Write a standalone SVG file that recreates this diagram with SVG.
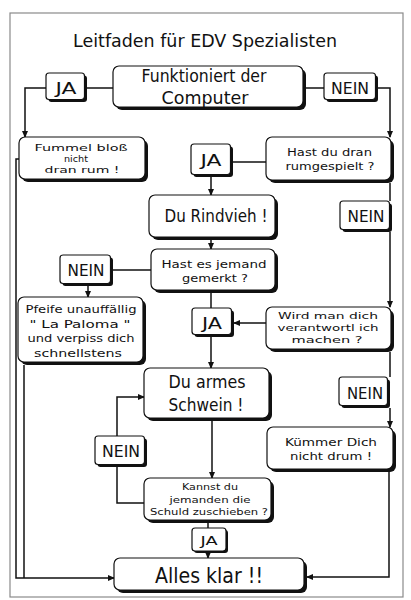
<svg xmlns="http://www.w3.org/2000/svg" width="411" height="600" viewBox="0 0 411 600">
<style>
.bg{fill:#fff}
.frame{fill:none;stroke:#8a8a8a;stroke-width:1.2}
.sh{fill:#111}
.bx{fill:#fff;stroke:#111;stroke-width:1.2}
.ln{fill:none;stroke:#111;stroke-width:1.5}
.ar{fill:none;stroke:#111;stroke-width:1.5;marker-end:url(#ah)}
text{font-family:"DejaVu Sans","Liberation Sans",sans-serif;fill:#111;text-anchor:middle}
.t{font-size:18px}
.big{font-size:17px}
.lab{font-size:16px}
.sm{font-size:9.5px}
.md{font-size:11px}
</style>
<defs>
<marker id="ah" markerWidth="7" markerHeight="6" refX="6" refY="3" orient="auto" markerUnits="userSpaceOnUse">
<path d="M0,0 L7,3 L0,6 Z" fill="#111"/>
</marker>
</defs>
<rect class="bg" x="0" y="0" width="411" height="600"/>
<rect class="frame" x="10" y="13" width="393" height="584"/>
<text x="205" y="47" class="t" textLength="264" lengthAdjust="spacingAndGlyphs">Leitfaden für  EDV Spezialisten</text>

<g id="connectors">
<path class="ar" d="M46,88 H25 V137"/>
<path class="ln" d="M87,88 H113"/>
<path class="ln" d="M306,88 H324"/>
<path class="ar" d="M378,88 H390 V137"/>
<path class="ln" d="M233,162 H266"/>
<path class="ar" d="M211,177 V195"/>
<path class="ln" d="M390,183 V201"/>
<path class="ar" d="M390,232 V307"/>
<path class="ar" d="M211,240 V249"/>
<path class="ln" d="M113,270 H151"/>
<path class="ar" d="M88,286 V297"/>
<path class="ln" d="M211,293 V308"/>
<path class="ar" d="M266,323 H234"/>
<path class="ar" d="M211,337 V368"/>
<path class="ln" d="M390,352 V377"/>
<path class="ar" d="M390,408 V427"/>
<path class="ar" d="M212,421 V478"/>
<path class="ar" d="M144,503 H117 V397 H144"/>
<path class="ar" d="M208,523 V558"/>
<path class="ar" d="M389,472 V577 H307"/>
<path class="ar" d="M19,159 H16 V578 H114"/>
<path class="ln" d="M24,365 V578"/>
</g>

<g id="n-funktioniert">
<rect class="sh" x="116" y="69" width="190" height="41" rx="6"/>
<rect class="bx" x="113" y="66" width="190" height="41" rx="6"/>
<text x="204" y="82" class="big" textLength="125" lengthAdjust="spacingAndGlyphs">Funktioniert der</text>
<text x="205" y="104" class="big" textLength="87" lengthAdjust="spacingAndGlyphs">Computer</text>
</g>
<g id="n-ja1">
<rect class="sh" x="48.5" y="75.5" width="38.5" height="26.5" rx="3"/>
<rect class="bx" x="46" y="73" width="38.5" height="26.5" rx="3"/>
<text x="66" y="94" class="lab" textLength="21" lengthAdjust="spacingAndGlyphs">JA</text>
</g>
<g id="n-nein1">
<rect class="sh" x="326.5" y="75.5" width="51.5" height="26.5" rx="3"/>
<rect class="bx" x="324" y="73" width="51.5" height="26.5" rx="3"/>
<text x="350" y="94" class="lab" textLength="38" lengthAdjust="spacingAndGlyphs">NEIN</text>
</g>
<g id="n-fummel">
<rect class="sh" x="22" y="140" width="126" height="42" rx="6"/>
<rect class="bx" x="19" y="137" width="126" height="42" rx="6"/>
<text x="81" y="151" class="sm" textLength="93" lengthAdjust="spacingAndGlyphs">Fummel bloß</text>
<text x="76" y="162" class="sm" textLength="24" lengthAdjust="spacingAndGlyphs">nicht</text>
<text x="82" y="173" class="sm" textLength="75" lengthAdjust="spacingAndGlyphs">dran rum !</text>
</g>
<g id="n-ja2">
<rect class="sh" x="193.5" y="146.5" width="39.5" height="30.5" rx="3"/>
<rect class="bx" x="191" y="144" width="39.5" height="30.5" rx="3"/>
<text x="211" y="166" class="lab" textLength="21" lengthAdjust="spacingAndGlyphs">JA</text>
</g>
<g id="n-hastdu">
<rect class="sh" x="269" y="140" width="125" height="43" rx="6"/>
<rect class="bx" x="266" y="137" width="125" height="43" rx="6"/>
<text x="329.5" y="156" class="md" textLength="85" lengthAdjust="spacingAndGlyphs">Hast du dran</text>
<text x="330" y="170" class="md" textLength="89" lengthAdjust="spacingAndGlyphs">rumgespielt ?</text>
</g>
<g id="n-nein2">
<rect class="sh" x="342.5" y="203.5" width="49.5" height="28.5" rx="3"/>
<rect class="bx" x="340" y="201" width="49.5" height="28.5" rx="3"/>
<text x="366" y="222" class="lab" textLength="37" lengthAdjust="spacingAndGlyphs">NEIN</text>
</g>
<g id="n-rindvieh">
<rect class="sh" x="152" y="198" width="126" height="42" rx="6"/>
<rect class="bx" x="149" y="195" width="126" height="42" rx="6"/>
<text x="216" y="222" class="t" textLength="103" lengthAdjust="spacingAndGlyphs">Du Rindvieh !</text>
</g>
<g id="n-hastes">
<rect class="sh" x="154" y="252" width="124" height="41" rx="6"/>
<rect class="bx" x="151" y="249" width="124" height="41" rx="6"/>
<text x="214" y="268" class="md" textLength="105" lengthAdjust="spacingAndGlyphs">Hast es jemand</text>
<text x="215" y="282" class="md" textLength="66" lengthAdjust="spacingAndGlyphs">gemerkt ?</text>
</g>
<g id="n-nein3">
<rect class="sh" x="62.5" y="257.5" width="50.5" height="28.5" rx="3"/>
<rect class="bx" x="60" y="255" width="50.5" height="28.5" rx="3"/>
<text x="86" y="276" class="lab" textLength="37" lengthAdjust="spacingAndGlyphs">NEIN</text>
</g>
<g id="n-pfeife">
<rect class="sh" x="21" y="300" width="125" height="65" rx="6"/>
<rect class="bx" x="18" y="297" width="125" height="65" rx="6"/>
<text x="81" y="313" class="md" textLength="111" lengthAdjust="spacingAndGlyphs">Pfeife unauffällig</text>
<text x="80" y="328" class="md" textLength="101" lengthAdjust="spacingAndGlyphs">" La Paloma "</text>
<text x="81" y="342" class="md" textLength="107" lengthAdjust="spacingAndGlyphs">und verpiss dich</text>
<text x="78" y="357" class="md" textLength="88" lengthAdjust="spacingAndGlyphs">schnellstens</text>
</g>
<g id="n-ja3">
<rect class="sh" x="194.5" y="310.5" width="39.5" height="26.5" rx="3"/>
<rect class="bx" x="192" y="308" width="39.5" height="26.5" rx="3"/>
<text x="212" y="329" class="lab" textLength="20" lengthAdjust="spacingAndGlyphs">JA</text>
</g>
<g id="n-wird">
<rect class="sh" x="269" y="310" width="125" height="42" rx="6"/>
<rect class="bx" x="266" y="307" width="125" height="42" rx="6"/>
<text x="328" y="319" class="sm" textLength="100" lengthAdjust="spacingAndGlyphs">Wird man dich</text>
<text x="328" y="331" class="sm" textLength="101" lengthAdjust="spacingAndGlyphs">verantwortl ich</text>
<text x="327" y="343" class="sm" textLength="71" lengthAdjust="spacingAndGlyphs">machen ?</text>
</g>
<g id="n-nein4">
<rect class="sh" x="341.5" y="379.5" width="48.5" height="28.5" rx="3"/>
<rect class="bx" x="339" y="377" width="48.5" height="28.5" rx="3"/>
<text x="365" y="399" class="lab" textLength="36" lengthAdjust="spacingAndGlyphs">NEIN</text>
</g>
<g id="n-armes">
<rect class="sh" x="147" y="371" width="125" height="50" rx="6"/>
<rect class="bx" x="144" y="368" width="125" height="50" rx="6"/>
<text x="207" y="388" class="t" textLength="77" lengthAdjust="spacingAndGlyphs">Du armes</text>
<text x="206" y="411" class="t" textLength="75" lengthAdjust="spacingAndGlyphs">Schwein !</text>
</g>
<g id="n-kuemmer">
<rect class="sh" x="270" y="430" width="126" height="42" rx="6"/>
<rect class="bx" x="267" y="427" width="126" height="42" rx="6"/>
<text x="331" y="446" class="md" textLength="92" lengthAdjust="spacingAndGlyphs">Kümmer Dich</text>
<text x="331" y="460" class="md" textLength="82" lengthAdjust="spacingAndGlyphs">nicht drum !</text>
</g>
<g id="n-nein5">
<rect class="sh" x="97.5" y="438.5" width="49.5" height="28.5" rx="3"/>
<rect class="bx" x="95" y="436" width="49.5" height="28.5" rx="3"/>
<text x="121" y="457" class="lab" textLength="38" lengthAdjust="spacingAndGlyphs">NEIN</text>
</g>
<g id="n-kannst">
<rect class="sh" x="147" y="481" width="127" height="42" rx="6"/>
<rect class="bx" x="144" y="478" width="127" height="42" rx="6"/>
<text x="210" y="490" class="sm" textLength="56" lengthAdjust="spacingAndGlyphs">Kannst du</text>
<text x="210" y="503" class="sm" textLength="81" lengthAdjust="spacingAndGlyphs">jemanden die</text>
<text x="209" y="515" class="sm" textLength="118" lengthAdjust="spacingAndGlyphs">Schuld zuschieben ?</text>
</g>
<g id="n-ja4">
<rect class="sh" x="194" y="530" width="34" height="23" rx="3"/>
<rect class="bx" x="192" y="528" width="34" height="23" rx="3"/>
<text x="209" y="545" style="font-size:13px" textLength="17" lengthAdjust="spacingAndGlyphs">JA</text>
</g>
<g id="n-alles">
<rect class="sh" x="117" y="561" width="190" height="32" rx="6"/>
<rect class="bx" x="114" y="558" width="190" height="32" rx="6"/>
<text x="209" y="583" style="font-size:21px" textLength="108" lengthAdjust="spacingAndGlyphs">Alles klar !!</text>
</g>
</svg>
